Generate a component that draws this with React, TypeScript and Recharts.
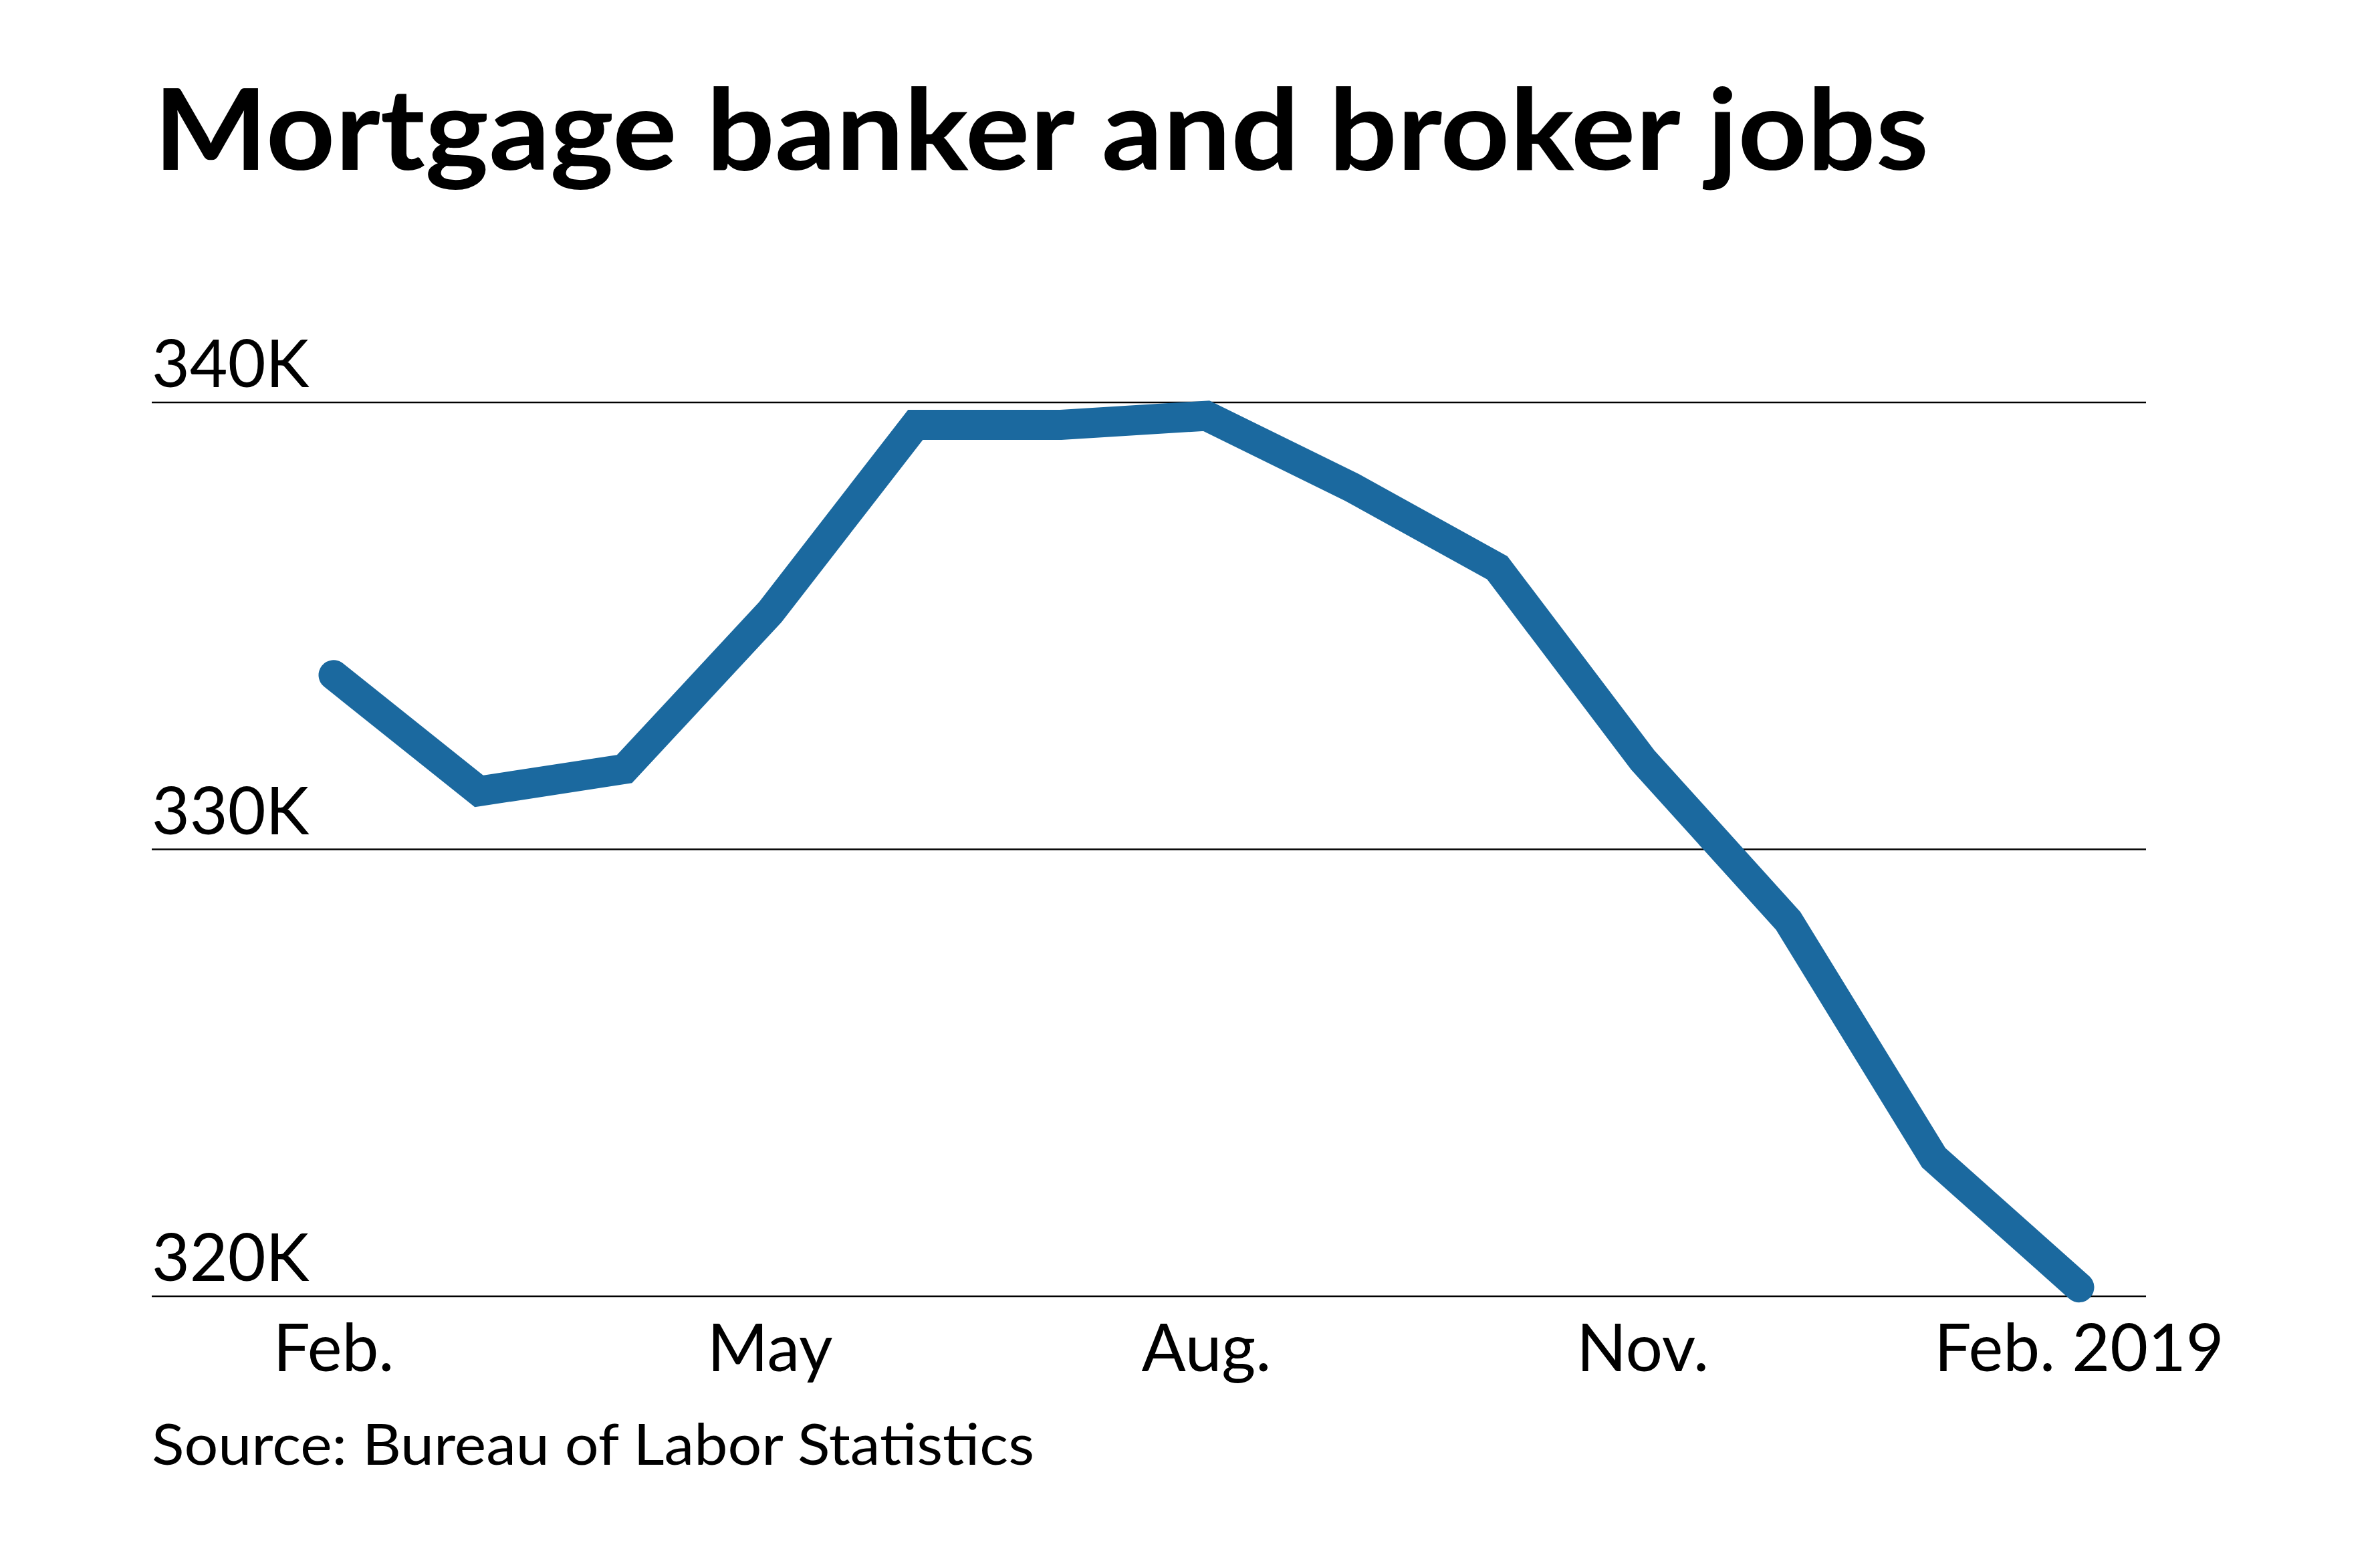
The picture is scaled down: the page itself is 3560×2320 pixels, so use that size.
import React from 'react';
import { LineChart, Line, XAxis, YAxis, CartesianGrid } from 'recharts';

const months = ['Feb.', 'Mar.', 'Apr.', 'May', 'Jun.', 'Jul.', 'Aug.', 'Sep.', 'Oct.', 'Nov.', 'Dec.', 'Jan.', 'Feb. 2019'];
const jobs = [333.9, 331.3, 331.8, 335.3, 339.5, 339.5, 339.7, 338.1, 336.3, 332.0, 328.4, 323.1, 320.2];
const xTickIndexes = [0, 3, 6, 9, 12];
const yTicks = [320, 330, 340];
const yTickLabels = ['320K', '330K', '340K'];
const title = 'Mortgage banker and broker jobs';
const source = 'Source: Bureau of Labor Statistics';

const data = months.map((m, i) => ({ i, month: m, jobs: jobs[i] }));

const FONT = 'Lato, "Open Sans", sans-serif';

const XTick = (props: any) => {
  const { x, y, payload } = props;
  return (
    <text x={x} y={y + 112} textAnchor="middle" fontFamily={FONT} fontSize={98} fill="#000">
      {months[payload.value]}
    </text>
  );
};

const YTick = (props: any) => {
  const { x, y, payload } = props;
  const idx = yTicks.indexOf(payload.value);
  return (
    <text x={x} y={y - 23} textAnchor="start" fontFamily={FONT} fontSize={98} fill="#000">
      {yTickLabels[idx]}
    </text>
  );
};

export default function App() {
  return (
    <div style={{ position: 'absolute', left: 0, top: 0, width: 3560, height: 2320, background: '#fff', overflow: 'hidden' }}>
      <LineChart
        width={3560}
        height={2320}
        data={data}
        margin={{ top: 602, right: 350, bottom: 131, left: 226 }}
      >
        <CartesianGrid vertical={false} stroke="#000" strokeWidth={2.5} />
        <XAxis
          dataKey="i"
          type="number"
          domain={[0, 12]}
          ticks={xTickIndexes}
          interval={0}
          padding={{ left: 272, right: 100 }}
          axisLine={false}
          tickLine={false}
          tickSize={0}
          tickMargin={0}
          height={250}
          tick={<XTick />}
        />
        <YAxis
          type="number"
          domain={[320, 340]}
          ticks={yTicks}
          interval={0}
          width={1}
          axisLine={false}
          tickLine={false}
          tickSize={0}
          tickMargin={0}
          tick={<YTick />}
        />
        <Line
          type="linear"
          dataKey="jobs"
          stroke="#1b699f"
          strokeWidth={45}
          strokeLinecap="round"
          strokeLinejoin="miter"
          dot={false}
          activeDot={false}
          isAnimationActive={false}
        />
      </LineChart>
      <svg width={3560} height={2320} style={{ position: 'absolute', left: 0, top: 0, pointerEvents: 'none' }}>
        <text x={230} y={254} fontFamily={FONT} fontWeight={700} fontSize={169} fill="#000" textLength={2655} lengthAdjust="spacingAndGlyphs">
          {title}
        </text>
        <text x={227} y={2191} fontFamily={FONT} fontSize={85} fill="#000" textLength={1320} lengthAdjust="spacingAndGlyphs">
          {source}
        </text>
      </svg>
    </div>
  );
}
